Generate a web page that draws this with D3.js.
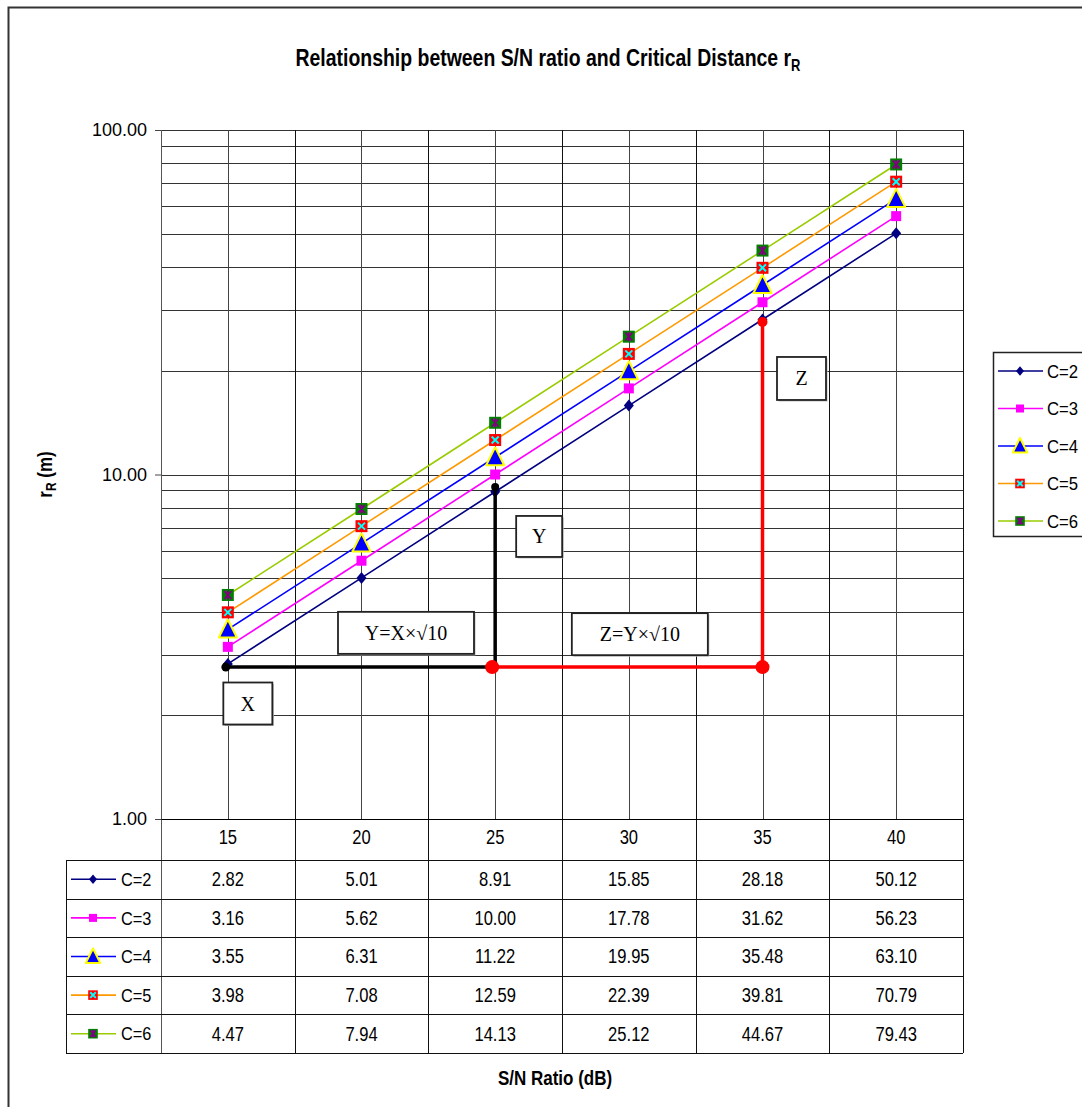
<!DOCTYPE html>
<html>
<head>
<meta charset="utf-8">
<script src="https://cdn.jsdelivr.net/npm/d3@7"></script>
<style>
  body { margin: 0; background: #fff; }
  svg { display: block; }
  text { font-family: "Liberation Sans", Arial, sans-serif; fill: #000; }
</style>
</head>
<body>
<svg id="chart" width="1082" height="1107"></svg>
<script>
// ---- data ----
const snRatios = ["15", "20", "25", "30", "35", "40"];           // S/N ratio (dB)
const seriesNames = ["C=2", "C=3", "C=4", "C=5", "C=6"];
const distC2 = [2.82, 5.01, 8.91, 15.85, 28.18, 50.12];
const distC3 = [3.16, 5.62, 10.00, 17.78, 31.62, 56.23];
const distC4 = [3.55, 6.31, 11.22, 19.95, 35.48, 63.10];
const distC5 = [3.98, 7.08, 12.59, 22.39, 39.81, 70.79];
const distC6 = [4.47, 7.94, 14.13, 25.12, 44.67, 79.43];
const yTickValues = [1, 10, 100];

// construction guides (S/N category, r_R value)
const blackGuide = [["15", 2.76], ["25", 2.76], ["25", 9.2]];
const redGuide = [["25", 2.76], ["35", 2.76], ["35", 27.7]];

// ---- layout ----
const W = 1082, H = 1107;
const plot = { left: 161, right: 963, top: 130, bottom: 819 };
const table = { left: 66, headerBottom: 860, rowH: 38.6 };
const NARROW = 0.85;   // horizontal squeeze of the chart's sans-serif text

const svg = d3.select("#chart");

const x = d3.scaleBand().domain(snRatios).range([plot.left, plot.right]).padding(0);
const y = d3.scaleLog().domain([1, 100]).range([plot.bottom, plot.top]);
const cx = d => x(d) + x.bandwidth() / 2;

const series = [
  { name: seriesNames[0], values: distC2, color: "#000080", marker: "diamond" },
  { name: seriesNames[1], values: distC3, color: "#FF00FF", marker: "square" },
  { name: seriesNames[2], values: distC4, color: "#0000FF", marker: "triangle" },
  { name: seriesNames[3], values: distC5, color: "#FF9900", marker: "xsquare" },
  { name: seriesNames[4], values: distC6, color: "#99CC00", marker: "starsquare" }
];

// text placed at (tx, ty) and squeezed horizontally
function label(parent, tx, ty, opts = {}) {
  const g = parent.append("g").attr("transform", `translate(${tx},${ty}) scale(${opts.sx ?? NARROW},1)`);
  return g.append("text")
    .attr("text-anchor", opts.anchor ?? "start")
    .attr("dy", opts.dy ?? null)
    .attr("font-size", opts.size ?? 20)
    .attr("font-weight", opts.bold ? "bold" : null);
}

// chart area frame
svg.append("path")
  .attr("d", `M8.5,${H} L8.5,7.5 L${W},7.5`)
  .attr("fill", "none").attr("stroke", "#333").attr("stroke-width", 2);

// ---- gridlines ----
const grid = svg.append("g").attr("shape-rendering", "crispEdges");
const logTicks = y.ticks(20);
grid.selectAll("line.h").data(logTicks).join("line")
  .attr("x1", plot.left).attr("x2", plot.right)
  .attr("y1", d => Math.round(y(d)) + 0.5).attr("y2", d => Math.round(y(d)) + 0.5)
  .attr("stroke", d => (d === 1 ? "#000" : "#333")).attr("stroke-width", 1);

// boundaries between categories (extend through the data table)
const bounds = snRatios.map(d => x(d)).concat([plot.right]);
grid.selectAll("line.b").data(bounds).join("line")
  .attr("x1", d => Math.round(d) + 0.5).attr("x2", d => Math.round(d) + 0.5)
  .attr("y1", plot.top).attr("y2", table.headerBottom + table.rowH * 5)
  .attr("stroke", (d, i) => (i === 0 ? "#555" : "#111"));

// lines through each category centre
grid.selectAll("line.c").data(snRatios).join("line")
  .attr("x1", d => Math.round(cx(d)) + 0.5).attr("x2", d => Math.round(cx(d)) + 0.5)
  .attr("y1", plot.top).attr("y2", plot.bottom)
  .attr("stroke", "#444");

// ---- axes ----
const yAxis = svg.append("g")
  .attr("transform", `translate(${plot.left},0)`)
  .call(d3.axisLeft(y).tickValues(yTickValues).tickFormat(d3.format(".2f")).tickSize(6).tickPadding(8));
yAxis.select(".domain").remove();
yAxis.selectAll("line").attr("stroke", "#444");
yAxis.selectAll("text").attr("font-size", 18).attr("font-family", "'Liberation Sans', Arial, sans-serif");

const xAxis = svg.append("g")
  .attr("transform", `translate(0,${plot.bottom})`)
  .call(d3.axisBottom(x).tickSize(0).tickPadding(11));
xAxis.select(".domain").attr("stroke", "#000");
xAxis.selectAll("text").attr("font-size", 19.5).attr("transform", `scale(${NARROW},1)`)
  .attr("font-family", "'Liberation Sans', Arial, sans-serif");

// ---- marker drawing ----
function drawMarker(g, type, color, k = 1) {
  if (type === "diamond") {
    g.append("path").attr("d", `M0,${-6 * k} L${5 * k},0 L0,${6 * k} L${-5 * k},0Z`).attr("fill", "#000080");
  } else if (type === "square") {
    g.append("rect").attr("x", -5 * k).attr("y", -5 * k).attr("width", 10 * k).attr("height", 10 * k).attr("fill", "#FF00FF");
  } else if (type === "triangle") {
    g.append("path").attr("d", `M0,${-10 * k} L${9 * k},${8 * k} L${-9 * k},${8 * k}Z`)
      .attr("fill", "#0000FF").attr("stroke", "#FFFF00").attr("stroke-width", 2).attr("stroke-linejoin", "round");
  } else if (type === "xsquare") {
    g.append("rect").attr("x", -6 * k).attr("y", -6 * k).attr("width", 12 * k).attr("height", 12 * k).attr("fill", "#FF0000");
    g.append("path").attr("d", `M${-3.5 * k},${-3.5 * k} L${3.5 * k},${3.5 * k} M${3.5 * k},${-3.5 * k} L${-3.5 * k},${3.5 * k}`)
      .attr("stroke", "#00FFFF").attr("stroke-width", 2);
  } else if (type === "starsquare") {
    g.append("rect").attr("x", -6 * k).attr("y", -6 * k).attr("width", 12 * k).attr("height", 12 * k).attr("fill", "#008000");
    g.append("path").attr("d", `M${-3.5 * k},${-4 * k} L${3.5 * k},${4 * k} M${3.5 * k},${-4 * k} L${-3.5 * k},${4 * k} M0,${-4.5 * k} L0,${4.5 * k}`)
      .attr("stroke", "#800080").attr("stroke-width", 1.8);
  }
}

// ---- series ----
const line = d3.line().x((d, i) => cx(snRatios[i])).y(d => y(d));
const seriesG = svg.append("g");
series.forEach(s => {
  const g = seriesG.append("g");
  g.append("path").attr("d", line(s.values)).attr("fill", "none")
    .attr("stroke", s.color).attr("stroke-width", 1.6);
  s.values.forEach((v, i) => {
    const m = g.append("g").attr("transform", `translate(${cx(snRatios[i])},${y(v)})`);
    drawMarker(m, s.marker, s.color);
  });
});

// ---- construction guides ----
const guideLine = d3.line().x(d => cx(d[0])).y(d => y(d[1]));
const guides = svg.append("g");
guides.append("path").attr("d", guideLine(blackGuide)).attr("fill", "none")
  .attr("stroke", "#000").attr("stroke-width", 3.5);
guides.append("path").attr("d", guideLine(redGuide)).attr("fill", "none")
  .attr("stroke", "#FF0000").attr("stroke-width", 3.5);
guides.append("circle").attr("cx", cx(blackGuide[0][0]) - 2).attr("cy", y(blackGuide[0][1])).attr("r", 4.5).attr("fill", "#000");
guides.append("circle").attr("cx", cx(blackGuide[2][0])).attr("cy", y(blackGuide[2][1])).attr("r", 4).attr("fill", "#000");
guides.append("circle").attr("cx", cx(redGuide[0][0]) - 3).attr("cy", y(redGuide[0][1])).attr("r", 7).attr("fill", "#FF0000");
guides.append("circle").attr("cx", cx(redGuide[1][0])).attr("cy", y(redGuide[1][1])).attr("r", 7).attr("fill", "#FF0000");
guides.append("circle").attr("cx", cx(redGuide[2][0])).attr("cy", y(redGuide[2][1])).attr("r", 5).attr("fill", "#FF0000");

// ---- annotation text boxes ----
const notes = [
  { text: "X", sn: "15", dx: 20, r: 2.164, w: 49, h: 42 },
  { text: "Y=X×√10", sn: "20", dx: 44.5, r: 3.47, w: 136, h: 42 },
  { text: "Y", sn: "25", dx: 44, r: 6.61, w: 46, h: 41 },
  { text: "Z=Y×√10", sn: "30", dx: 11, r: 3.44, w: 136, h: 42 },
  { text: "Z", sn: "35", dx: 39, r: 19.0, w: 49, h: 43 }
];
const noteG = svg.append("g").selectAll("g").data(notes).join("g")
  .attr("transform", d => `translate(${cx(d.sn) + d.dx},${y(d.r)})`);
noteG.append("rect")
  .attr("x", d => -d.w / 2 + 1.5).attr("y", d => -d.h / 2 + 1.5)
  .attr("width", d => d.w).attr("height", d => d.h).attr("fill", "#bbb");
noteG.append("rect")
  .attr("x", d => -d.w / 2).attr("y", d => -d.h / 2)
  .attr("width", d => d.w).attr("height", d => d.h)
  .attr("fill", "#fff").attr("stroke", "#222").attr("stroke-width", 1.8);
noteG.append("text")
  .attr("text-anchor", "middle").attr("dy", "0.35em")
  .style("font-family", "'Liberation Serif', 'Times New Roman', serif")
  .attr("font-size", 20)
  .text(d => d.text);

// ---- data table below the plot ----
const rowY = i => table.headerBottom + table.rowH * i;
const tbl = svg.append("g").attr("shape-rendering", "crispEdges");
d3.range(6).forEach(i => {
  tbl.append("line").attr("x1", table.left).attr("x2", plot.right)
    .attr("y1", Math.round(rowY(i)) + 0.5).attr("y2", Math.round(rowY(i)) + 0.5)
    .attr("stroke", "#111");
});
tbl.append("line").attr("x1", table.left + 0.5).attr("x2", table.left + 0.5)
  .attr("y1", rowY(0)).attr("y2", rowY(5)).attr("stroke", "#111");

const rows = svg.append("g").selectAll("g").data(series).join("g")
  .attr("transform", (d, i) => `translate(0,${rowY(i) + table.rowH / 2})`);
rows.each(function (s) {
  const g = d3.select(this);
  g.append("line").attr("x1", 71).attr("x2", 116).attr("y1", 0).attr("y2", 0)
    .attr("stroke", s.color).attr("stroke-width", 1.6);
  drawMarker(g.append("g").attr("transform", "translate(93,0)"), s.marker, s.color, 0.8);
  label(g, 121, 0, { size: 19, dy: "0.35em", sx: 0.86 }).text(s.name);
  s.values.forEach((v, i) => {
    label(g, cx(snRatios[i]), 0, { size: 19.5, dy: "0.35em", anchor: "middle" }).text(d3.format(".2f")(v));
  });
});

// ---- legend ----
const legend = svg.append("g").attr("transform", "translate(993,352)");
legend.append("rect").attr("x", 0.5).attr("y", 0.5).attr("width", 120).attr("height", 184)
  .attr("fill", "#fff").attr("stroke", "#222").attr("stroke-width", 1.5);
series.forEach((s, i) => {
  const g = legend.append("g").attr("transform", `translate(0,${19 + i * 37.5})`);
  g.append("line").attr("x1", 5).attr("x2", 50).attr("stroke", s.color).attr("stroke-width", 1.6);
  drawMarker(g.append("g").attr("transform", "translate(27,0)"), s.marker, s.color, 0.8);
  label(g, 54, 0, { size: 19, dy: "0.35em", sx: 0.88 }).text(s.name);
});

// ---- titles ----
const title = label(svg, 548, 66, { size: 24, bold: true, anchor: "middle", sx: 0.81 });
title.append("tspan").text("Relationship between S/N ratio and Critical Distance r");
title.append("tspan").attr("font-size", 16).attr("dy", 5).text("R");

const yTitleG = svg.append("g")
  .attr("transform", `translate(52,${(plot.top + plot.bottom) / 2}) rotate(-90) scale(${NARROW},1)`);
const yTitle = yTitleG.append("text")
  .attr("text-anchor", "middle").attr("font-size", 20).attr("font-weight", "bold");
yTitle.append("tspan").text("r");
yTitle.append("tspan").attr("font-size", 14).attr("dy", 4).text("R");
yTitle.append("tspan").attr("dy", -4).text(" (m)");

label(svg, 555, 1085, { size: 20, bold: true, anchor: "middle" }).text("S/N Ratio (dB)");
</script>
</body>
</html>
